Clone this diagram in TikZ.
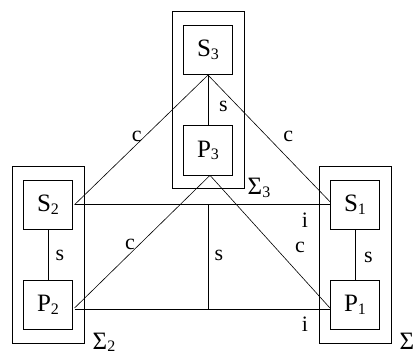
\documentclass[tikz,border=0pt]{standalone}
\usepackage{fontspec}
\setmainfont{Liberation Serif}
\usetikzlibrary{fit,calc}
\newcommand{\lowsub}[1]{\raisebox{-2.5pt}{\fontsize{16}{16}\selectfont #1}}
\begin{document}
\begin{tikzpicture}[x=1pt,y=-1pt,
  box/.style={draw, line width=0.7pt, minimum width=49.4pt, minimum height=49.4pt, inner sep=0pt, font=\fontsize{25}{25}\selectfont},
  grp/.style={draw, line width=0.7pt, inner xsep=11pt, inner ysep=13.3pt},
  lbl/.style={font=\fontsize{22}{22}\selectfont, inner sep=0pt},
  sig/.style={font=\fontsize{25}{25}\selectfont, inner sep=0pt, anchor=west},
  conn/.style={line width=0.6pt}]
\useasboundingbox (0,0) rectangle (415,352);
\node[box] (S3) at (208,50) {S\lowsub{3}};
\node[box] (P3) at (208,150.3) {P\lowsub{3}};
\node[box] (S2) at (48,204.7) {S\lowsub{2}};
\node[box] (P2) at (48,305) {P\lowsub{2}};
\node[box] (S1) at (355,204.7) {S\lowsub{1}};
\node[box] (P1) at (355,305) {P\lowsub{1}};
\node[grp, fit=(S3)(P3)] (G3) {};
\node[grp, fit=(S2)(P2)] (G2) {};
\node[grp, fit=(S1)(P1)] (G1) {};
\node[sig] (L3) at (247.5,188) {Σ\lowsub{3}};
\node[sig] (L2) at (92.5,342.5) {Σ\lowsub{2}};
\node[sig] (L1) at (399.5,342.5) {Σ\lowsub{1}};
% connectors
\coordinate (s2e) at ([xshift=1.5pt]S2.east);
\coordinate (p2e) at ([xshift=1.5pt,yshift=-4pt]P2.east);
\coordinate (p2d) at ([xshift=1.5pt,yshift=-3pt]P2.east);
\coordinate (s1w) at (S1.west);
\coordinate (s1d) at ([yshift=3pt]S1.west);
\coordinate (p1w) at ([yshift=-4pt]P1.west);
\coordinate (p1d) at ([yshift=-3pt]P1.west);
\coordinate (mtop) at (S3.south |- s2e);
\coordinate (mbot) at (S3.south |- p2e);
\draw[conn] (S3.south) -- (P3.north);
\draw[conn] (S3.south) -- (s2e);
\draw[conn] (S3.south) -- (s1d);
\draw[conn] ([xshift=2pt]P3.south) -- (p2d);
\draw[conn] ([xshift=2pt]P3.south) -- (p1d);
\draw[conn] (s2e) -- (s1w);
\draw[conn] (p2e) -- (p1w);
\draw[conn] (mtop) -- (mbot);
\draw[conn] (S2.south) -- (P2.north);
\draw[conn] (S1.south) -- (P1.north);
% labels
\node[lbl] (c1) at (136.7,136) {c};
\node[lbl] (c2) at (288.3,136) {c};
\node[lbl] (s3) at (223.3,106) {s};
\node[lbl] (c3) at (130,244) {c};
\node[lbl] (c4) at (300,247.5) {c};
\node[lbl] (sm) at (219,255) {s};
\node[lbl] (i1) at (305,220.5) {i};
\node[lbl] (i2) at (305,324) {i};
\node[lbl] (s2) at (60,255) {s};
\node[lbl] (s1) at (368.3,257.5) {s};
\end{tikzpicture}
\end{document}
